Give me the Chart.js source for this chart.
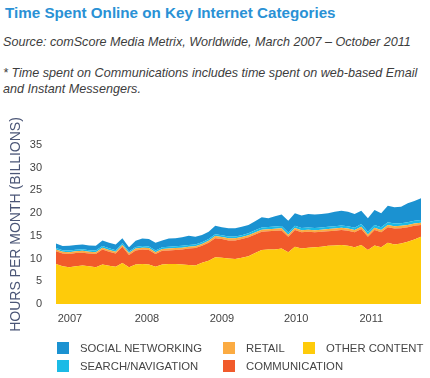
<!DOCTYPE html>
<html><head><meta charset="utf-8">
<script src="https://cdn.jsdelivr.net/npm/chart.js@4"></script>
<style>
html,body{margin:0;padding:0;background:#fff;}
body{width:430px;height:378px;position:relative;overflow:hidden;font-family:"Liberation Sans",Arial,sans-serif;}
.t{position:absolute;white-space:nowrap;line-height:1;}
#title{left:5px;top:5px;font-weight:bold;font-size:15.2px;color:#2a91d5;}
#sub{left:3px;top:36px;font-style:italic;font-size:12.6px;color:#3d3d3d;}
#note{left:3px;top:65px;font-style:italic;font-size:12.6px;line-height:16px;color:#3d3d3d;}
#chartWrap{position:absolute;left:0;top:0;width:430px;height:378px;}
.lg{position:absolute;font-size:11.3px;color:#454545;line-height:1;white-space:nowrap;}
.sw{position:absolute;width:12px;height:12px;}
</style></head>
<body>
<div id="title" class="t">Time Spent Online on Key Internet Categories</div>
<div id="sub" class="t">Source: comScore Media Metrix, Worldwide, March 2007 – October 2011</div>
<div id="note" class="t">* Time spent on Communications includes time spent on web-based Email<br>and Instant Messengers.</div>
<div id="chartWrap"><canvas id="c" width="430" height="378"></canvas></div>
<div id="legend"></div>
<script>
// Months: March 2007 .. October 2011 (index 0..55)
const startYear = 2007, startMonth = 3;
const months = [];
for (let i = 0; i < 56; i++) {
  const m = (startMonth - 1 + i) % 12 + 1;
  const y = startYear + Math.floor((startMonth - 1 + i) / 12);
  months.push(y + '-' + String(m).padStart(2, '0'));
}

const otherContent = [8.8,8.3,8.1,8.3,8.5,8.3,8.1,8.7,8.4,8.2,9.0,8.1,8.7,8.8,8.7,8.2,8.7,8.8,8.8,8.7,8.6,8.5,9.1,9.5,10.3,10.2,10.0,9.9,10.2,10.5,11.2,11.9,12.0,12.0,12.2,11.4,12.6,12.2,12.4,12.5,12.6,12.8,12.9,13.0,12.8,12.5,13.0,11.9,12.9,12.5,13.5,13.1,13.3,13.7,14.2,14.8];
const communication = [2.8,2.8,2.9,2.9,2.8,2.8,2.9,3.3,3.1,2.9,3.6,2.7,3.1,3.2,3.2,2.8,3.0,3.0,3.1,3.3,3.6,3.8,3.7,4.0,4.2,4.1,4.0,4.1,4.1,4.2,4.1,4.0,4.0,4.1,4.0,3.4,3.7,3.6,3.5,3.3,3.3,3.2,3.2,3.3,3.3,3.3,3.5,2.9,3.4,3.3,3.4,3.5,3.4,3.2,3.0,2.6];
const retail = [0.4,0.4,0.4,0.4,0.4,0.4,0.4,0.4,0.4,0.4,0.4,0.4,0.4,0.4,0.4,0.4,0.4,0.4,0.4,0.4,0.4,0.4,0.4,0.4,0.45,0.45,0.45,0.45,0.45,0.45,0.45,0.45,0.45,0.45,0.45,0.45,0.45,0.45,0.45,0.45,0.45,0.5,0.5,0.5,0.5,0.5,0.5,0.5,0.5,0.5,0.5,0.5,0.5,0.5,0.5,0.5];
const searchNavigation = [0.35,0.35,0.35,0.35,0.35,0.35,0.35,0.35,0.35,0.35,0.35,0.35,0.35,0.35,0.35,0.35,0.4,0.4,0.4,0.4,0.4,0.4,0.4,0.4,0.4,0.4,0.4,0.4,0.4,0.4,0.5,0.5,0.5,0.5,0.5,0.5,0.5,0.5,0.5,0.5,0.5,0.5,0.5,0.5,0.5,0.5,0.6,0.6,0.6,0.6,0.6,0.6,0.6,0.6,0.6,0.6];
const socialNetworking = [0.95,0.9,1.05,1.05,1.05,1.05,1.05,1.25,1.25,1.25,1.15,0.95,1.35,1.65,1.65,1.75,1.5,1.8,1.8,1.9,2.0,1.7,1.6,1.6,1.85,1.75,1.85,1.85,1.85,1.85,1.95,2.25,1.95,2.25,2.55,2.55,2.75,2.75,2.95,2.95,2.95,3.0,3.2,3.2,3.2,3.0,2.9,3.0,3.3,3.1,3.6,3.6,3.6,4.2,4.4,4.8];

const yearLabels = ['2007','2008','2009','2010','2011'];
const yearLabelIndex = [2.1, 13.7, 25.0, 36.2, 47.5];

const seriesNames = ['OTHER CONTENT','COMMUNICATION','RETAIL','SEARCH/NAVIGATION','SOCIAL NETWORKING'];
const seriesColors = ['#fecb0a','#f15a2b','#fbab42','#1bbbe6','#1b92d1'];
const seriesData = [otherContent, communication, retail, searchNavigation, socialNetworking];

const datasets = seriesData.map((arr, k) => ({
  label: seriesNames[k],
  data: arr.map((v, i) => ({x: i, y: v})),
  backgroundColor: seriesColors[k],
  borderColor: seriesColors[k],
  borderWidth: 0,
  pointRadius: 0,
  tension: 0,
  fill: k === 0 ? 'origin' : '-1'
}));

new Chart(document.getElementById('c'), {
  type: 'line',
  data: { datasets },
  options: {
    responsive: false,
    animation: false,
    events: [],
    layout: { padding: { top: 145, right: 9, bottom: 49, left: 0 } },
    plugins: { legend: { display: false }, tooltip: { enabled: false }, title: { display: false } },
    scales: {
      x: {
        type: 'linear', min: 0, max: months.length - 1,
        grid: { display: false, drawTicks: false },
        border: { display: false },
        afterBuildTicks: s => { s.ticks = yearLabelIndex.map(v => ({ value: v })); },
        afterFit: s => { s.height = 25; },
        ticks: {
          autoSkip: false, maxRotation: 0, padding: 8,
          color: '#444', font: { family: 'Liberation Sans', size: 11 },
          callback: (v, i) => yearLabels[i]
        }
      },
      y: {
        stacked: true, min: 0, max: 35,
        grid: { display: false, drawTicks: false },
        border: { display: false },
        afterFit: s => { s.width = 56; },
        ticks: { stepSize: 5, padding: 14, color: '#444', font: { family: 'Liberation Sans', size: 11 } },
        title: {
          display: true, text: 'HOURS PER MONTH (BILLIONS)', color: '#4b5677',
          font: { family: 'Liberation Sans', size: 14 }, padding: { top: 8, bottom: 0 }
        }
      }
    }
  }
});

// HTML legend (order as in reference)
const legendOrder = [4, 2, 0, 3, 1];
const legendPos = [[57,342],[223,342],[303,342],[57,360],[223,360]];
const lg = document.getElementById('legend');
legendOrder.forEach((k, j) => {
  const [x, y] = legendPos[j];
  const sw = document.createElement('div');
  sw.className = 'sw';
  sw.style.left = x + 'px'; sw.style.top = y + 'px';
  sw.style.background = seriesColors[k];
  lg.appendChild(sw);
  const tx = document.createElement('div');
  tx.className = 'lg';
  tx.textContent = seriesNames[k];
  tx.style.left = (x + 23) + 'px'; tx.style.top = (y + 0.5) + 'px';
  lg.appendChild(tx);
});
</script>
</body></html>
